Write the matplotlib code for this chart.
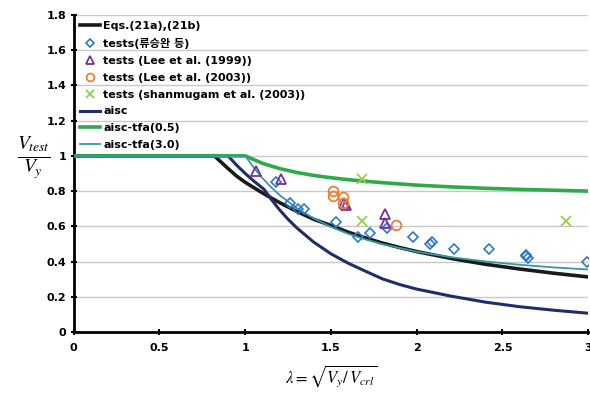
#!/usr/bin/env python3
"""
전단강도 비교 그래프 (Vtest/Vy - λ)
Eqs.(21a),(21b), AISC 곡선, 실험값을 같이 그린다
"""

import matplotlib
matplotlib.use('Agg')
import matplotlib.pyplot as plt
from matplotlib.ticker import FuncFormatter

# 곡선 데이터
eq21_lam = [0, 0.82, 0.86, 0.9, 0.95, 1.0, 1.05, 1.1, 1.15, 1.2, 1.3, 1.4, 1.5, 1.6,
            1.7, 1.8, 1.9, 2.0, 2.2, 2.4, 2.6, 2.8, 3.0]
eq21_val = [1, 1, 0.964, 0.928, 0.885, 0.85, 0.82, 0.79, 0.762, 0.735, 0.685, 0.64,
            0.605, 0.567, 0.535, 0.505, 0.48, 0.457, 0.418, 0.385, 0.358, 0.334, 0.313]

aisc_lam = [0, 0.9, 0.95, 1.0, 1.05, 1.11, 1.15, 1.2, 1.25, 1.3, 1.4, 1.5, 1.6, 1.7,
            1.8, 1.9, 2.0, 2.2, 2.4, 2.6, 2.8, 3.0]
aisc_val = [1, 1, 0.947, 0.9, 0.857, 0.81, 0.756, 0.694, 0.64, 0.592, 0.51, 0.444,
            0.391, 0.346, 0.302, 0.27, 0.244, 0.204, 0.17, 0.144, 0.124, 0.107]

tfa_lam = [0, 1.0, 1.05, 1.1, 1.15, 1.2, 1.3, 1.4, 1.5, 1.6, 1.7, 1.8, 2.0, 2.2,
           2.4, 2.6, 2.8, 3.0]
tfa05_val = [1, 1, 0.979, 0.958, 0.943, 0.928, 0.906, 0.889, 0.876, 0.865, 0.856,
             0.848, 0.834, 0.824, 0.816, 0.81, 0.805, 0.80]
tfa30_val = [1, 1, 0.933, 0.874, 0.823, 0.778, 0.704, 0.645, 0.597, 0.558, 0.526,
             0.499, 0.456, 0.425, 0.401, 0.382, 0.367, 0.355]

# 실험값
ryu_lam = [1.18, 1.26, 1.31, 1.34, 1.53, 1.66, 1.73, 1.825, 1.98, 2.08, 2.09, 2.22,
           2.42, 2.64, 2.64, 2.65, 2.99]
ryu_val = [0.85, 0.73, 0.70, 0.70, 0.625, 0.54, 0.565, 0.59, 0.54, 0.50, 0.51, 0.47,
           0.47, 0.43, 0.44, 0.42, 0.40]

lee99_lam = [1.06, 1.21, 1.575, 1.585, 1.815, 1.815]
lee99_val = [0.915, 0.87, 0.73, 0.72, 0.67, 0.62]

lee03_lam = [1.51, 1.51, 1.57, 1.57, 1.88]
lee03_val = [0.80, 0.775, 0.765, 0.73, 0.61]

shan_lam = [1.68, 1.68, 2.87]
shan_val = [0.87, 0.63, 0.63]

x_ticks = [0, 0.5, 1, 1.5, 2, 2.5, 3]
y_ticks = [0, 0.2, 0.4, 0.6, 0.8, 1, 1.2, 1.4, 1.6, 1.8]


def num_label(v, pos):
    # 0.0 -> 0, 1.0 -> 1
    s = f"{v:.1f}"
    return s[:-2] if s.endswith('.0') else s


def main():
    plt.rcParams['font.family'] = ['DejaVu Sans', 'Noto Sans CJK KR']
    plt.rcParams['mathtext.fontset'] = 'stix'

    fig = plt.figure(figsize=(5.9, 3.93), dpi=100)
    ax = fig.add_axes([0.125, 0.155, 0.872, 0.807])

    ax.plot(eq21_lam, eq21_val, color='#1a1a1a', lw=2.6, label='Eqs.(21a),(21b)', zorder=3)
    ax.plot(ryu_lam, ryu_val, ls='none', marker='D', ms=5, mfc='none', mec='#2E78C8',
            mew=1.2, label='tests(류승완 등)', zorder=4)
    ax.plot(lee99_lam, lee99_val, ls='none', marker='^', ms=7.5, mfc='none', mec='#7030A0',
            mew=1.3, label='tests (Lee et al. (1999))', zorder=4)
    ax.plot(lee03_lam, lee03_val, ls='none', marker='o', ms=7, mfc='none', mec='#ED7D31',
            mew=1.3, label='tests (Lee et al. (2003))', zorder=4)
    ax.plot(shan_lam, shan_val, ls='none', marker='x', ms=7, mec='#92D050',
            mew=1.3, label='tests (shanmugam et al. (2003))', zorder=4)
    ax.plot(aisc_lam, aisc_val, color='#1F2D6B', lw=2.2, label='aisc', zorder=3)
    ax.plot(tfa_lam, tfa05_val, color='#2EAA4A', lw=2.6, label='aisc-tfa(0.5)', zorder=3)
    ax.plot(tfa_lam, tfa30_val, color='#3597A8', lw=1.3, label='aisc-tfa(3.0)', zorder=3)

    ax.set_xlim(0, 3)
    ax.set_ylim(0, 1.8)
    ax.set_xticks(x_ticks)
    ax.set_yticks(y_ticks)
    ax.xaxis.set_major_formatter(FuncFormatter(num_label))
    ax.yaxis.set_major_formatter(FuncFormatter(num_label))
    ax.tick_params(axis='both', labelsize=8, width=1.5, length=4, direction='inout')
    for lbl in ax.get_xticklabels() + ax.get_yticklabels():
        lbl.set_fontweight('bold')
    ax.tick_params(axis='x', pad=6)

    ax.grid(True, axis='y', color='#c8c8c8', lw=1)
    ax.set_axisbelow(True)
    for side in ['top', 'right']:
        ax.spines[side].set_visible(False)
    for side in ['left', 'bottom']:
        ax.spines[side].set_linewidth(2)

    # 축 제목
    fig.text(0.058, 0.60, r'$\frac{V_{test}}{V_y}$', fontsize=20, ha='center', va='center')
    ax.set_xlabel(r'$\lambda = \sqrt{V_y/\,V_{crl}}$', fontsize=12, labelpad=7)

    leg = ax.legend(loc='upper left', frameon=False, fontsize=8, handlelength=1.8,
                    handletextpad=0.3, labelspacing=0.62, borderaxespad=0.15,
                    markerscale=0.8, bbox_to_anchor=(0.0, 1.0))
    for t in leg.get_texts():
        t.set_fontweight('bold')

    fig.savefig('out.png', dpi=100)
    plt.close(fig)


if __name__ == "__main__":
    main()
